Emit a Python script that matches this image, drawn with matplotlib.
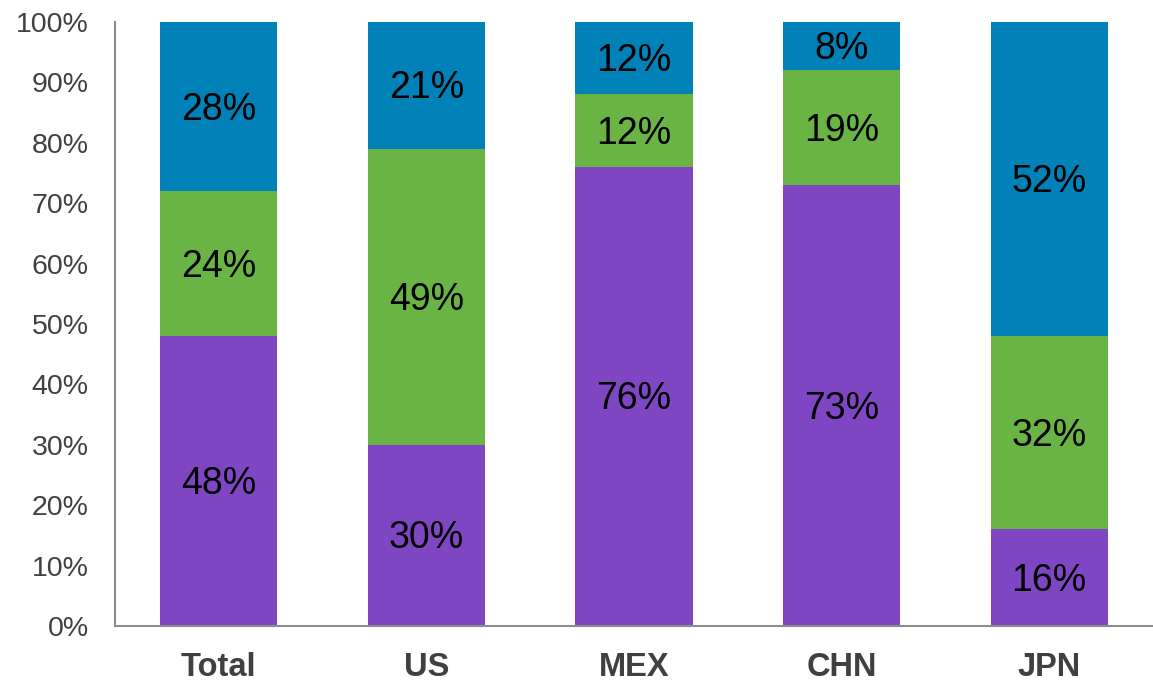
import numpy as np
import matplotlib.pyplot as plt

categories = ['Total', 'US', 'MEX', 'CHN', 'JPN']
bottom_share = [48, 30, 76, 73, 16]
middle_share = [24, 49, 12, 19, 32]
top_share = [28, 21, 12, 8, 52]

colors = ['#7F46C3', '#69B444', '#0081B8']

plt.rcParams['font.family'] = ['Liberation Sans', 'DejaVu Sans']

fig = plt.figure(figsize=(11.53, 6.87), dpi=100)
ax = fig.add_axes([0.0997, 0.0888, 0.9003, 0.8792])

x = np.arange(len(categories))
width = 0.565
base = np.zeros(len(categories))
for vals, col in zip([bottom_share, middle_share, top_share], colors):
    vals = np.array(vals, dtype=float)
    ax.bar(x, vals, width, bottom=base, color=col, zorder=2)
    for xi, b, v in zip(x, base, vals):
        ax.text(xi, b + v / 2 - 0.5, f'{int(v)}%', ha='center', va='center',
                fontsize=27, color='black', zorder=3)
    base += vals

ax.set_xlim(-0.5, len(categories) - 0.5)
ax.set_ylim(0, 100)
ax.set_yticks(range(0, 101, 10))
ax.set_yticklabels([f'{v}%' for v in range(0, 101, 10)])
ax.set_xticks(x)
ax.set_xticklabels(categories, fontweight='bold')
ax.tick_params(axis='y', length=0, pad=19, labelsize=20.5, labelcolor='#404040')
ax.tick_params(axis='x', length=0, pad=19, labelsize=23.5, labelcolor='#404040')

for side in ['top', 'right']:
    ax.spines[side].set_visible(False)
for side in ['left', 'bottom']:
    ax.spines[side].set_color('#8c8c8c')
    ax.spines[side].set_linewidth(1.5)

fig.savefig('out.png', dpi=100)
